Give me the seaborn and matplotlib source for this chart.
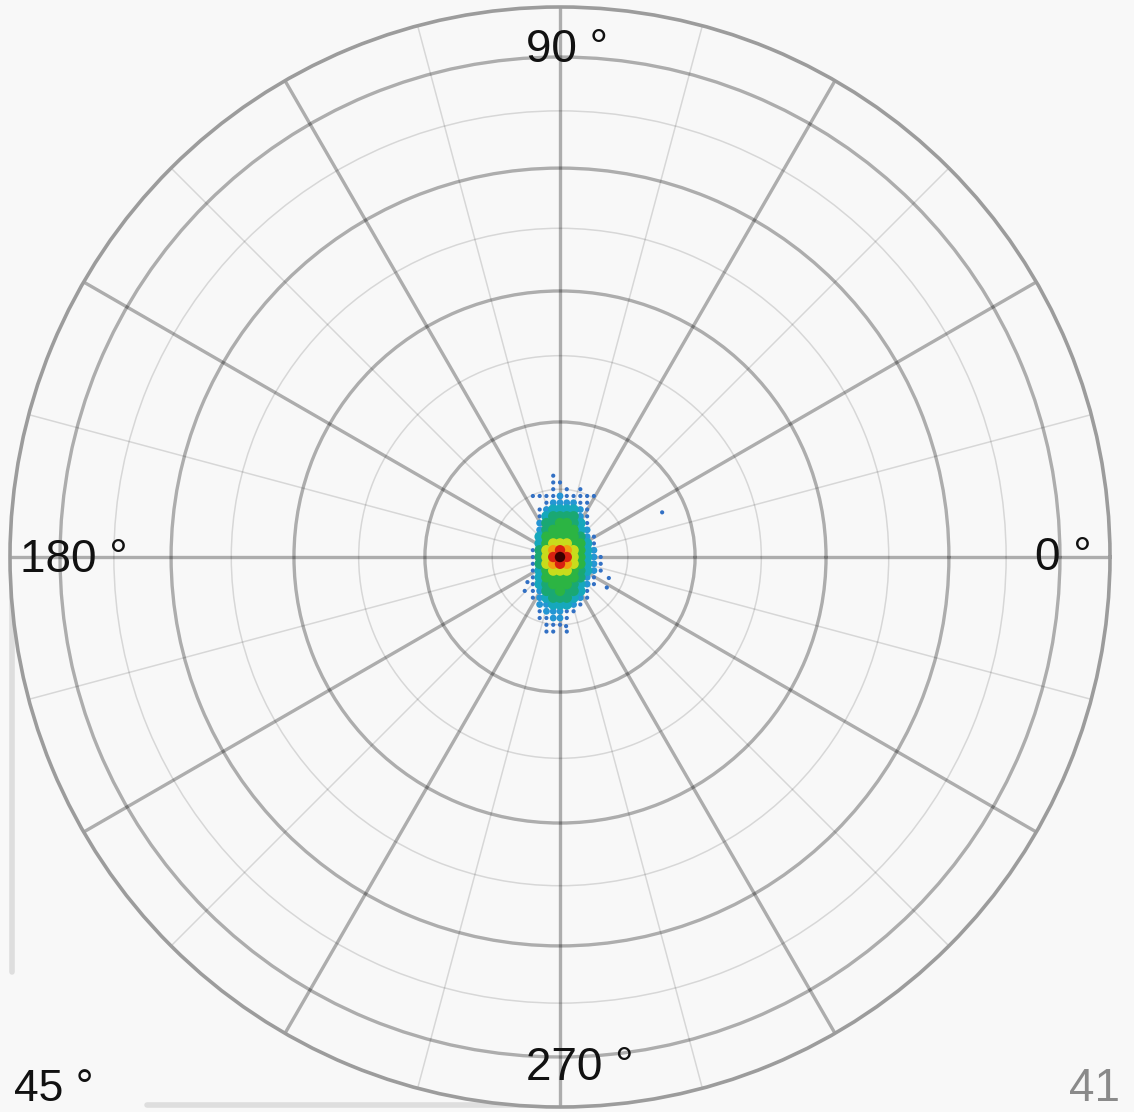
import numpy as np
import pandas as pd
import seaborn as sns
import matplotlib
matplotlib.use("Agg")
import matplotlib.pyplot as plt
from matplotlib.lines import Line2D

# ---------------------------------------------------------------------------
# Data: density of measured directions around the pole, binned in 1-degree
# cells (dx to the right, dy upwards).  0 = empty, 9 = densest.
# ---------------------------------------------------------------------------
dx_values = list(range(-4, 7))          # columns, degrees
dy_values = list(range(12, -12, -1))    # rows (top to bottom), degrees
density_rows = [
    "00010000000",  # +12
    "00011000000",  # +11
    "00010101000",  # +10
    "11112111110",  # +9
    "00122221100",  # +8
    "01233332100",  # +7
    "01344442100",  # +6
    "02445543100",  # +5
    "02455553200",  # +4
    "03555554210",  # +3
    "03566655310",  # +2
    "14678765320",  # +1
    "14689865321",  #  0
    "14678765321",  # -1
    "13566654321",  # -2
    "13555554210",  # -3
    "13455543210",  # -4
    "12445443100",  # -5
    "12344432100",  # -6
    "02233321000",  # -7
    "01222110000",  # -8
    "01122100000",  # -9
    "00111000000",  # -10
    "00110100000",  # -11
]

# isolated points away from the main cluster (degrees)
outlier_dx = [15.1, 7.2, 6.9, -5.2, -4.8, 0.9]
outlier_dy = [6.6, -3.1, -4.5, -5.0, -3.7, -10.2]

ring_major_deg = [20, 40, 60, 80]
ring_minor_deg = [10, 30, 50, 70]
spoke_major_deg = list(range(0, 360, 30))
spoke_minor_deg = list(range(15, 360, 30))

axis_labels = ["0 °", "90 °", "180 °", "270 °"]

# ---------------------------------------------------------------------------
# Styling
# ---------------------------------------------------------------------------
level_colors = {
    1: "#3270c4", 2: "#2596d4", 3: "#16a8bc", 4: "#1aa873", 5: "#2cb443",
    6: "#c8dc1c", 7: "#f2a010", 8: "#d82010", 9: "#3a0000",
}
level_sizes = {1: 9, 2: 24, 3: 56, 4: 56, 5: 56, 6: 56, 7: 56, 8: 56, 9: 56}

W, H, DPI = 1134, 1112, 100
BG = "#f8f8f8"
LABEL_FONT = ["Liberation Sans", "DejaVu Sans"]

sns.set_style("white")
plt.rcParams["font.family"] = LABEL_FONT


def lambert(psi_deg):
    """Equal-area radius (0..1) for a polar angle in degrees (90 deg -> 1)."""
    psi = np.deg2rad(np.asarray(psi_deg, dtype=float))
    return np.sin(psi / 2.0) / np.sin(np.pi / 4.0)


# build the point table from the grid
recs = []
for row, dy in zip(density_rows, dy_values):
    for ch, dx in zip(row, dx_values):
        lvl = int(ch)
        if lvl > 0:
            recs.append((dx, dy, lvl))
for dx, dy in zip(outlier_dx, outlier_dy):
    recs.append((dx, dy, 1))
df = pd.DataFrame(recs, columns=["dx", "dy", "level"]).sort_values("level", kind="stable")
df["theta"] = np.arctan2(df["dy"], df["dx"])
df["r"] = lambert(np.hypot(df["dx"], df["dy"]))

fig = plt.figure(figsize=(W / DPI, H / DPI), dpi=DPI, facecolor=BG)
ax = fig.add_axes([10 / W, 5 / H, 1100 / W, 1100 / H], projection="polar")
ax.set_facecolor(BG)
ax.set_axisbelow(True)

sns.scatterplot(
    data=df, x="theta", y="r", hue="level", palette=level_colors,
    size="level", sizes=level_sizes, marker="o", linewidth=0,
    legend=False, ax=ax, zorder=3,
)
ax.set_xlabel("")
ax.set_ylabel("")
ax.set_ylim(0, 1)

ax.set_yticks(lambert(ring_major_deg))
ax.set_yticks(lambert(ring_minor_deg), minor=True)
ax.set_xticks(np.deg2rad(spoke_major_deg))
ax.set_xticks(np.deg2rad(spoke_minor_deg), minor=True)
ax.set_xticklabels([])
ax.set_yticklabels([])
ax.set_xticklabels([], minor=True)
ax.set_yticklabels([], minor=True)
ax.tick_params(which="both", length=0)
ax.grid(which="major", color="k", alpha=0.30, lw=2.4)
ax.grid(which="minor", color="k", alpha=0.13, lw=1.1)
ax.spines["polar"].set_color("#9c9c9c")
ax.spines["polar"].set_linewidth(2.6)


def px(x, y):
    return x / W, 1 - y / H


# direction labels just inside the rim (left edge x, baseline y in pixels)
label_pos = {"0 °": (1035, 570), "90 °": (526, 62), "180 °": (20, 572), "270 °": (526, 1080)}
for lab in axis_labels:
    fx, fy = px(*label_pos[lab])
    fig.text(fx, fy, lab, ha="left", va="baseline", fontsize=33, color="#111111")

# corner texts, kept just clear of the bottom edge
fx, fy = px(14, 1101)
fig.text(fx, fy, "45 °", ha="left", va="baseline", fontsize=32, color="#111111")
fx, fy = px(1069, 1101)
fig.text(fx, fy, "41", ha="left", va="baseline", fontsize=33, color="#8a8a8a")

# faint frame strokes at the lower left
x0, y0 = px(12, 560)
x1, y1 = px(12, 972)
fig.add_artist(Line2D([x0, x1], [y0, y1], transform=fig.transFigure,
                      color="#dedede", lw=4, zorder=0))
x0, y0 = px(147, 1105)
x1, y1 = px(560, 1105)
fig.add_artist(Line2D([x0, x1], [y0, y1], transform=fig.transFigure,
                      color="#dedede", lw=4, zorder=0))

fig.savefig("out.png", dpi=DPI, facecolor=BG)
